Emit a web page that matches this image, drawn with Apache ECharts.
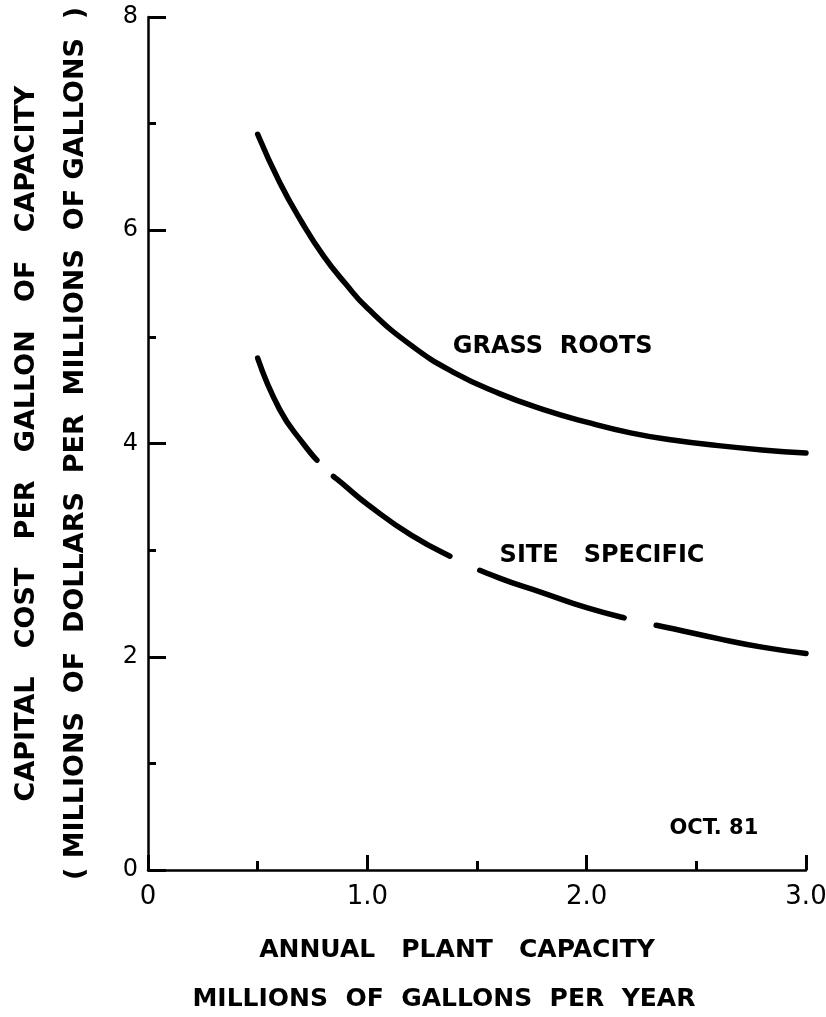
<!DOCTYPE html>
<html>
<head>
<meta charset="utf-8">
<script src="https://cdn.jsdelivr.net/npm/echarts@6/dist/echarts.min.js"></script>
<style>
  html, body { margin: 0; padding: 0; background: #fff; }
  #chart { width: 826px; height: 1017px; }
</style>
</head>
<body>
<div id="chart"></div>
<script>
// annual plant capacity, millions of gallons per year
const capacity = [0.5, 0.6, 0.7, 0.8, 0.9, 1.0, 1.2, 1.4, 1.6, 1.8, 2.0, 2.2, 2.4, 2.6, 2.8, 3.0];
// capital cost, millions of dollars per millions of gallons
const grassRoots = [6.9, 6.45, 6.08, 5.76, 5.5, 5.27, 4.92, 4.66, 4.47, 4.32, 4.2, 4.1, 4.03, 3.98, 3.94, 3.91];
const siteSpecific = [4.8, 4.32, 4.02, 3.78, 3.6, 3.43, 3.14, 2.92, 2.74, 2.6, 2.46, 2.35, 2.26, 2.17, 2.09, 2.03];

const curveNames = ['GRASS  ROOTS', 'SITE   SPECIFIC'];
const curveLabelAt = [[1.845, 4.91], [2.07, 2.95]];
const stampText = 'OCT. 81';
const stampAt = [2.58, 0.39];

const xTitle = 'ANNUAL   PLANT   CAPACITY\nMILLIONS  OF  GALLONS  PER  YEAR   ';
const yTitle = 'CAPITAL   COST   PER   GALLON   OF   CAPACITY\n( MILLIONS  OF  DOLLARS  PER  MILLIONS  OF GALLONS  )';

const font = 'DejaVu Sans';
const ink = '#000';

function pairs(ys) {
  return capacity.map((x, i) => [x, ys[i]]);
}

function tag(text, coord, size) {
  return {
    symbol: 'rect',
    symbolSize: 1,
    silent: true,
    itemStyle: { color: 'rgba(0,0,0,0)' },
    label: {
      show: true, position: 'inside', formatter: text,
      color: ink, fontFamily: font, fontWeight: 'bold', fontSize: size
    },
    data: [{ coord: coord }]
  };
}

const chart = echarts.init(document.getElementById('chart'));

chart.setOption({
  animation: false,
  backgroundColor: '#fff',
  grid: { left: 148, right: 20, top: 17, bottom: 147, containLabel: false, outerBoundsMode: 'none' },
  xAxis: {
    type: 'value', min: 0, max: 3, interval: 1,
    name: xTitle, nameLocation: 'middle', nameGap: 56,
    nameTextStyle: {
      color: ink, fontFamily: font, fontWeight: 'bold', fontSize: 25,
      lineHeight: 49, padding: [0, 40, 0, 0]
    },
    axisLine: { lineStyle: { color: ink, width: 2.5 } },
    axisTick: { inside: true, length: 15, lineStyle: { color: ink, width: 3 } },
    minorTick: { show: true, splitNumber: 2, length: 9, lineStyle: { color: ink, width: 3 } },
    splitLine: { show: false },
    axisLabel: {
      color: ink, fontFamily: font, fontSize: 26, margin: 14,
      formatter: (v) => (v === 0 ? '0' : v.toFixed(1))
    }
  },
  yAxis: {
    type: 'value', min: 0, max: 8, interval: 2,
    name: yTitle, nameLocation: 'middle', nameGap: 48,
    nameTextStyle: {
      color: ink, fontFamily: font, fontWeight: 'bold', fontSize: 27, lineHeight: 49
    },
    axisLine: { lineStyle: { color: ink, width: 2.5 } },
    axisTick: { inside: true, length: 18, lineStyle: { color: ink, width: 3 } },
    minorTick: { show: true, splitNumber: 2, length: 8, lineStyle: { color: ink, width: 3 } },
    splitLine: { show: false },
    axisLabel: { color: ink, fontFamily: font, fontSize: 24, margin: 10 }
  },
  series: [
    {
      name: curveNames[0], type: 'line', smooth: true, symbol: 'none',
      data: pairs(grassRoots),
      lineStyle: { color: ink, width: 5.5, cap: 'round' },
      markPoint: tag(curveNames[0], curveLabelAt[0], 24)
    },
    {
      name: curveNames[1], type: 'line', smooth: true, symbol: 'none',
      data: pairs(siteSpecific),
      lineStyle: { color: ink, width: 5.5, cap: 'round', type: [119, 23, 142, 33, 152, 33, 400] },
      markPoint: tag(curveNames[1], curveLabelAt[1], 24)
    },
    {
      name: 'stamp', type: 'line', symbol: 'none', data: [[0, 0]],
      lineStyle: { opacity: 0 },
      markPoint: tag(stampText, stampAt, 21)
    }
  ]
});
</script>
</body>
</html>
